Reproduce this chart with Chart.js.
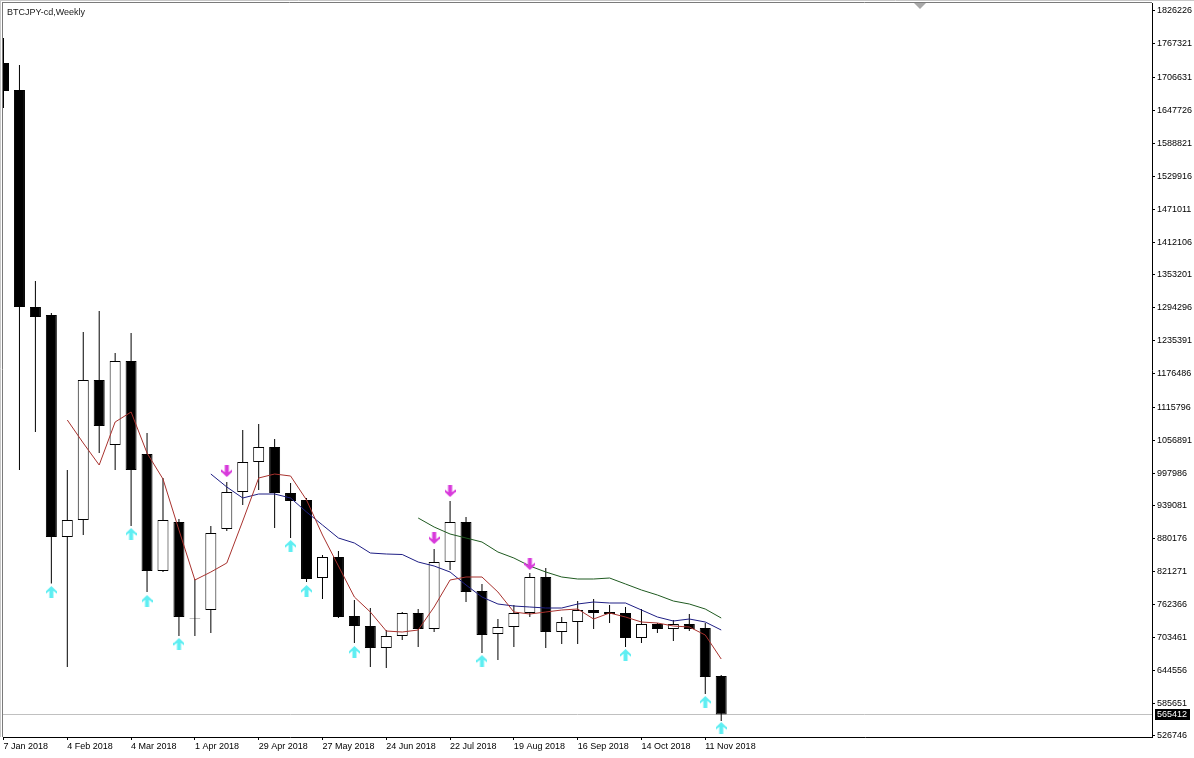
<!DOCTYPE html>
<html><head><meta charset="utf-8">
<script src="https://cdn.jsdelivr.net/npm/chart.js@4.4.1/dist/chart.umd.min.js"></script>
<style>html,body{margin:0;padding:0;background:#fff;overflow:hidden}canvas{display:block}</style>
</head><body>
<canvas id="c" width="1194" height="758"></canvas>
<script>
const symbolTitle = 'BTCJPY-cd,Weekly';

const weeks = ['7 Jan 2018','14 Jan 2018','21 Jan 2018','28 Jan 2018','4 Feb 2018','11 Feb 2018','18 Feb 2018','25 Feb 2018',
  '4 Mar 2018','11 Mar 2018','18 Mar 2018','25 Mar 2018','1 Apr 2018','8 Apr 2018','15 Apr 2018','22 Apr 2018',
  '29 Apr 2018','6 May 2018','13 May 2018','20 May 2018','27 May 2018','3 Jun 2018','10 Jun 2018','17 Jun 2018',
  '24 Jun 2018','1 Jul 2018','8 Jul 2018','15 Jul 2018','22 Jul 2018','29 Jul 2018','5 Aug 2018','12 Aug 2018',
  '19 Aug 2018','26 Aug 2018','2 Sep 2018','9 Sep 2018','16 Sep 2018','23 Sep 2018','30 Sep 2018','7 Oct 2018',
  '14 Oct 2018','21 Oct 2018','28 Oct 2018','4 Nov 2018','11 Nov 2018','18 Nov 2018'];

const xTickLabels = ['7 Jan 2018','4 Feb 2018','4 Mar 2018','1 Apr 2018','29 Apr 2018','27 May 2018','24 Jun 2018',
  '22 Jul 2018','19 Aug 2018','16 Sep 2018','14 Oct 2018','11 Nov 2018'];

const yTickValues = [1826226,1767321,1706631,1647726,1588821,1529916,1471011,1412106,1353201,1294296,1235391,1176486,
  1115796,1056891,997986,939081,880176,821271,762366,703461,644556,585651,526746];

const open = [1733021,1684627,1295678,1281339,883429,913899,1164834,1048328,1198889,1032197,822487,910314,736453,752584,
  897768,964086,1017858,1044744,962294,949747,809941,847581,741830,723906,684473,705982,747207,718528,838619,910314,
  786640,709567,722113,747207,811733,713151,731075,752584,748999,747207,702397,727491,718528,727491,720321,634286];
const high = [1777831,1729437,1342280,1284924,1003519,1250869,1288509,1213228,1249076,1069837,989180,915692,808148,903145,
  982010,1075214,1085969,1059083,980218,953332,851166,858335,770508,756169,716736,748999,754376,861920,947955,919276,
  799186,736453,761546,818903,827864,740037,768716,772300,761546,757961,754376,729283,734660,745415,729283,636079];
const low = [1652364,1003519,1071630,799979,650418,887013,1033989,1003519,903145,784847,820695,705982,705982,711359,
  894183,940785,967671,899560,881636,802771,772300,738245,693435,650418,648625,698812,686266,713151,824280,766923,
  675511,662965,686266,740037,684473,691643,691643,718528,729283,686266,693435,711359,697020,714944,602023,553629];
const close = [1682835,1295678,1277754,883429,913899,1164834,1082384,1198889,1003519,822487,913899,740037,737500,890598,
  964086,1017858,1044744,962294,947955,808148,847581,740037,723906,684473,705982,747207,718528,838619,910314,784847,
  707774,722113,747207,811733,713151,731075,752584,747207,745415,702397,727491,718528,727491,718528,632494,565412];

const maFast = [null,null,null,null,1093138,1051913,1012481,1089553,1107477,1033989,987387,895975,806356,820695,836826,
  912107,989180,996349,992764,949747,887013,831449,775885,748999,714944,713151,716736,757961,806356,811733,811733,
  784847,748999,745415,748999,752584,754376,736453,747207,740037,731075,729283,723906,722113,707774,664757];
const maMid = [null,null,null,null,null,null,null,null,null,null,null,null,null,996349,973048,953332,960501,960501,
  953332,928238,904937,881636,872674,854750,852958,852061,838619,831449,820695,797394,775885,763338,759754,757961,
  756169,756169,763338,766923,765131,765131,752584,740037,732868,736453,731075,716736];
const maSlow = [null,null,null,null,null,null,null,null,null,null,null,null,null,null,null,null,null,null,null,null,
  null,null,null,null,null,null,917484,901352,888806,881636,874467,856543,845788,831449,820695,811733,808148,808148,
  809941,799186,788432,779470,768716,763338,754376,738245];

const buySignal = [null,null,null,784847,null,null,null,null,888806,768716,null,691643,null,null,null,null,null,null,
  867297,786640,null,null,677304,null,null,null,null,null,null,null,661172,null,null,null,null,null,null,null,null,
  671927,null,null,null,null,587684,541082];
const sellSignal = [null,null,null,null,null,null,null,null,null,null,null,null,null,null,1001726,null,null,null,null,
  null,null,null,null,null,null,null,null,881636,965879,null,null,null,null,835034,null,null,null,null,null,null,null,
  null,null,null,null,null];

const FONT = {family: "'Liberation Sans', Arial, sans-serif", size: 9};

function makeArrow(color, down) {
  const c = document.createElement('canvas');
  c.width = 11; c.height = 12;
  const g = c.getContext('2d');
  g.fillStyle = color;
  if (down) { g.translate(0, 12); g.scale(1, -1); }
  g.beginPath();
  g.moveTo(5.5, 0); g.lineTo(11, 5.2); g.lineTo(11, 7.8); g.lineTo(7.5, 4.8);
  g.lineTo(7.5, 12); g.lineTo(3.5, 12); g.lineTo(3.5, 4.8); g.lineTo(0, 7.8); g.lineTo(0, 5.2);
  g.closePath(); g.fill();
  return c;
}
const upImg = makeArrow('#5eeef2', false);
const downImg = makeArrow('#d83adb', true);

const idx = weeks.map((_, i) => i);
const pts = arr => idx.filter(i => arr[i] !== null).map(i => ({x: i, y: arr[i]}));

const zeroPad = s => { s.paddingLeft = 0; s.paddingRight = 0; s.paddingTop = 0; s.paddingBottom = 0; };

const chromePlugin = {
  id: 'chrome',
  beforeDatasetsDraw(chart) {
    const {ctx, chartArea: a, scales: {y}} = chart;
    const py = Math.round(y.getPixelForValue(close[close.length - 1])) + 0.5;
    ctx.save();
    ctx.strokeStyle = '#c0c0c0'; ctx.lineWidth = 1;
    ctx.beginPath(); ctx.moveTo(a.left, py); ctx.lineTo(a.right, py); ctx.stroke();
    ctx.restore();
  },
  afterDraw(chart) {
    const {ctx, chartArea: a, scales: {y}} = chart;
    ctx.save();
    ctx.strokeStyle = '#c8c8c8'; ctx.lineWidth = 1;
    ctx.beginPath(); ctx.moveTo(0, 0.5); ctx.lineTo(chart.width, 0.5); ctx.moveTo(0.5, 0); ctx.lineTo(0.5, a.bottom); ctx.stroke();
    ctx.strokeStyle = '#7a7a7a';
    ctx.beginPath(); ctx.moveTo(2, 2.5); ctx.lineTo(a.right, 2.5); ctx.moveTo(2.5, 2); ctx.lineTo(2.5, a.bottom); ctx.stroke();
    ctx.fillStyle = '#a8a8a8';
    ctx.beginPath(); ctx.moveTo(914, 3); ctx.lineTo(926, 3); ctx.lineTo(920, 9); ctx.closePath(); ctx.fill();
    ctx.fillStyle = '#202020';
    ctx.font = "9px 'Liberation Sans', Arial, sans-serif";
    ctx.textBaseline = 'alphabetic'; ctx.textAlign = 'left';
    ctx.fillText(symbolTitle, 7, 15);
    const last = close[close.length - 1];
    const py = Math.round(y.getPixelForValue(last));
    ctx.fillStyle = '#000';
    ctx.fillRect(a.right + 3, py - 5, 35, 11);
    ctx.fillStyle = '#fff';
    ctx.textBaseline = 'middle';
    ctx.fillText(String(last), a.right + 5, py + 0.5);
    ctx.restore();
  }
};

new Chart(document.getElementById('c'), {
  type: 'bar',
  data: {
    datasets: [
      {type: 'scatter', data: pts(buySignal), pointStyle: upImg, pointRadius: 6, order: 0},
      {type: 'scatter', data: pts(sellSignal), pointStyle: downImg, pointRadius: 6, order: 0},
      {type: 'line', data: pts(maFast), borderColor: '#a8322e', borderWidth: 1, pointRadius: 0, tension: 0, order: 1},
      {type: 'line', data: pts(maMid), borderColor: '#1e1e84', borderWidth: 1, pointRadius: 0, tension: 0, order: 1},
      {type: 'line', data: pts(maSlow), borderColor: '#1f5a20', borderWidth: 1, pointRadius: 0, tension: 0, order: 1},
      {type: 'bar', data: idx.map(i => ({x: i, y: [Math.min(open[i], close[i]), Math.max(open[i], close[i])]})),
        backgroundColor: idx.map(i => close[i] >= open[i] ? '#ffffff' : '#000000'),
        borderColor: '#000000', borderWidth: 1, borderSkipped: false, barThickness: 11, grouped: false,
        inflateAmount: 0, order: 2},
      {type: 'bar', data: idx.map(i => ({x: i, y: [low[i], high[i]]})),
        backgroundColor: '#000000', borderWidth: 0, barThickness: 1, grouped: false, inflateAmount: 0, order: 3}
    ]
  },
  options: {
    responsive: false, animation: false, devicePixelRatio: 1,
    layout: {autoPadding: false, padding: {left: 3, top: 3, right: 0, bottom: 0}},
    plugins: {legend: {display: false}, tooltip: {enabled: false}},
    scales: {
      x: {
        type: 'linear', min: -0.0314, max: 72.01, offset: false,
        afterBuildTicks: s => { s.ticks = xTickLabels.map(l => ({value: weeks.indexOf(l)})); },
        afterFit: s => { s.height = 21; zeroPad(s); },
        ticks: {autoSkip: false, maxRotation: 0, minRotation: 0, align: 'start', padding: 1, font: FONT, color: '#000',
          callback: v => weeks[v]},
        grid: {display: true, offset: false, drawOnChartArea: false, drawTicks: true, tickLength: 3, color: '#000'},
        border: {display: true, color: '#000', width: 1}
      },
      y: {
        type: 'linear', position: 'right', min: 524953, max: 1840565,
        afterBuildTicks: s => { s.ticks = yTickValues.map(v => ({value: v})); },
        afterFit: s => { s.width = 42; zeroPad(s); },
        ticks: {font: FONT, color: '#000', padding: 2, callback: v => String(v)},
        grid: {display: true, drawOnChartArea: false, drawTicks: true, tickLength: 3, color: '#000'},
        border: {display: true, color: '#000', width: 1}
      }
    }
  },
  plugins: [chromePlugin]
});
</script>
</body></html>
